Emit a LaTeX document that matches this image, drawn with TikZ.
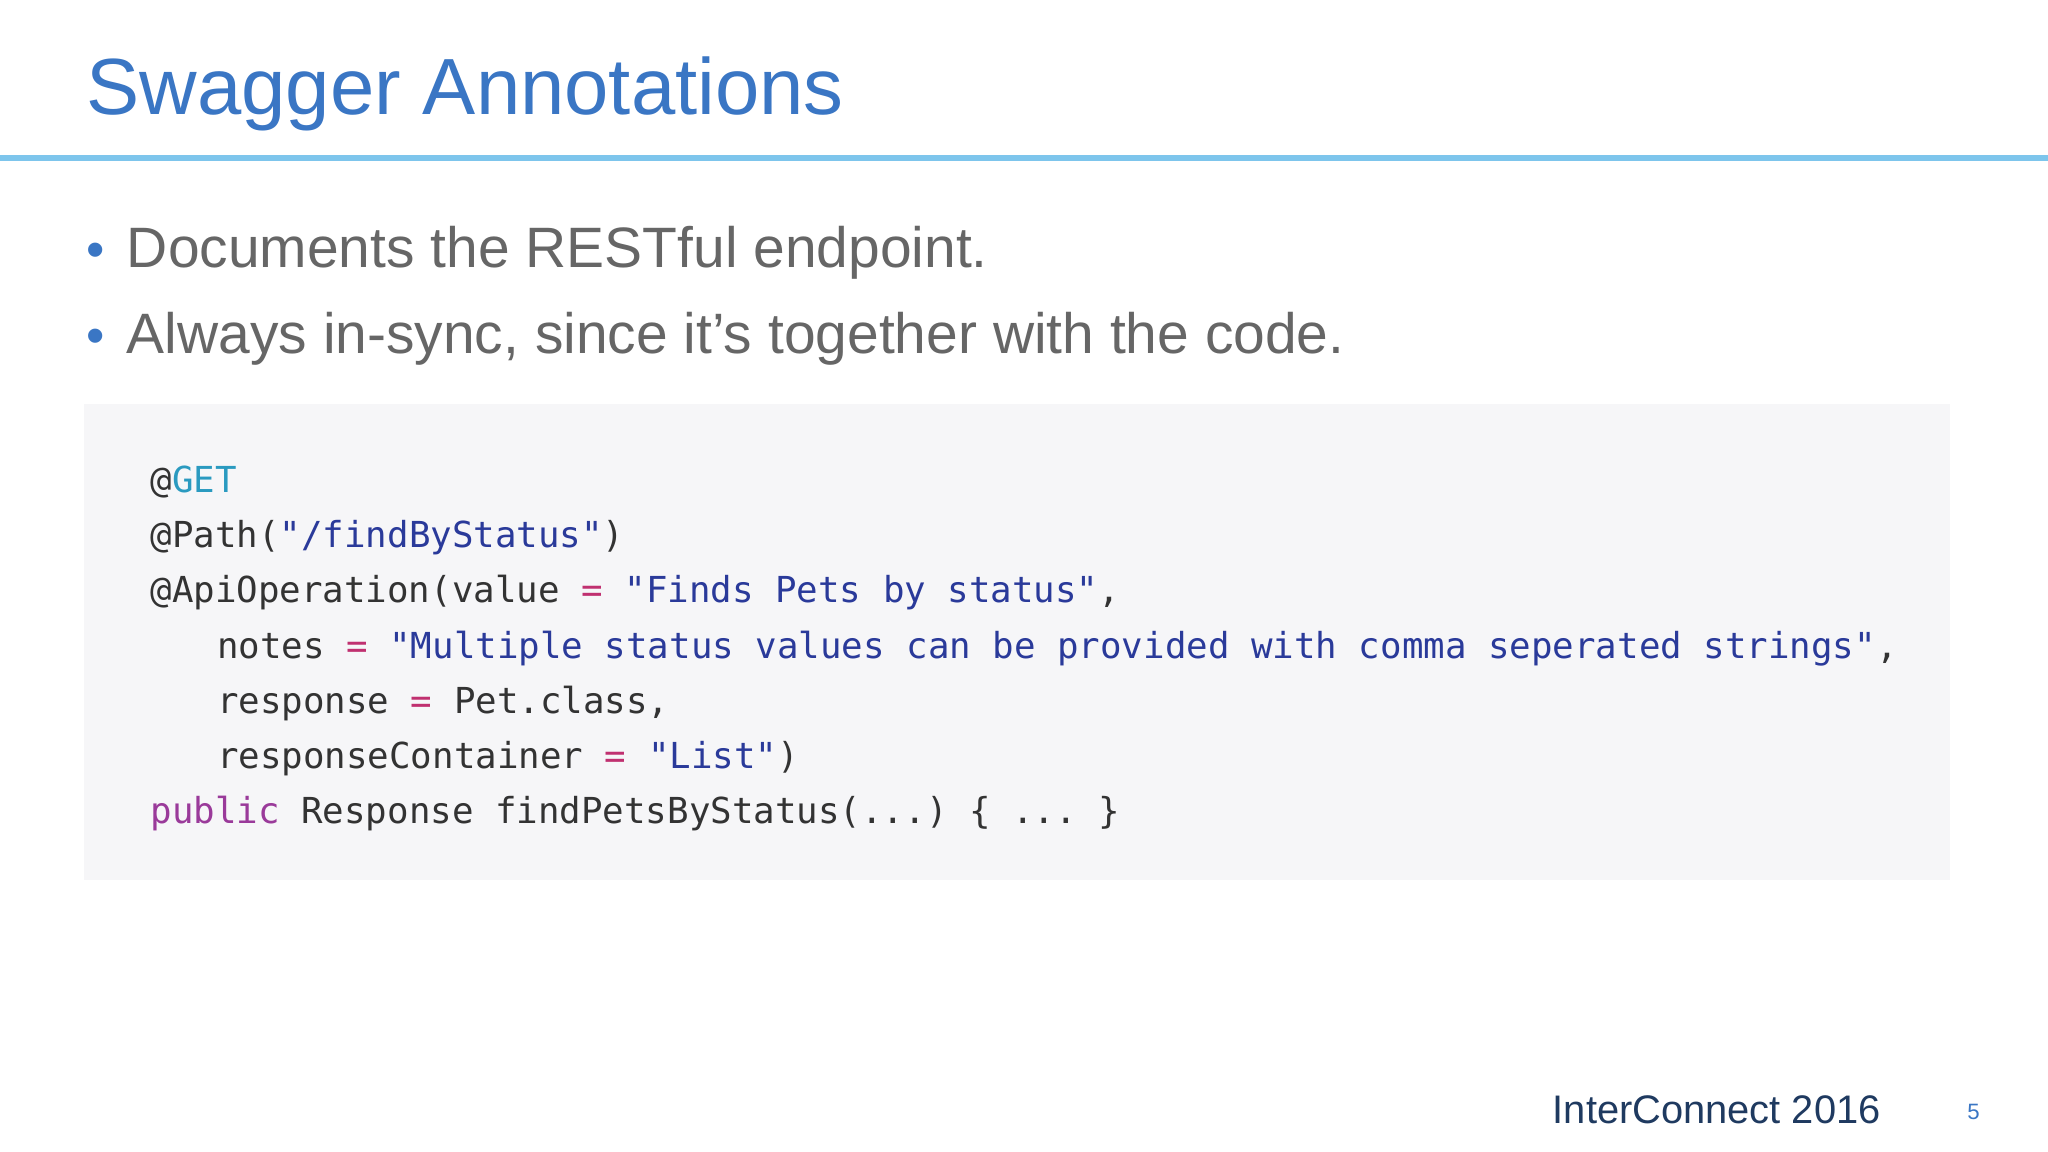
\documentclass[tikz,border=0pt]{standalone}
\usepackage{fontspec}
\setmainfont{Liberation Sans}
\setmonofont{DejaVu Sans Mono}
\definecolor{titleblue}{HTML}{3A76C4}
\definecolor{rulecol}{HTML}{7DC5EC}
\definecolor{txtgray}{HTML}{666666}
\definecolor{codebg}{HTML}{F6F6F8}
\definecolor{cdef}{HTML}{333333}
\definecolor{cstr}{HTML}{2A3A9A}
\definecolor{ceq}{HTML}{C03070}
\definecolor{cann}{HTML}{2A9AC0}
\definecolor{ckw}{HTML}{9A3A9A}
\definecolor{footcol}{HTML}{1F3A60}
\newcommand{\Cs}[1]{\textcolor{cstr}{#1}}
\newcommand{\Ce}{\textcolor{ceq}{=}}
\begin{document}
\begin{tikzpicture}[x=1pt,y=1pt,
  codeline/.style={anchor=base west,inner sep=0pt,font=\fontsize{27.4}{30}\selectfont\ttfamily,text=cdef},
  bullettext/.style={anchor=base west,inner sep=0pt,font=\fontsize{43.6}{50}\selectfont,text=txtgray}]
\useasboundingbox[fill=white] (0,0) rectangle (1568,-882);
\node[anchor=base west,inner sep=0pt,font=\fontsize{61}{70}\selectfont,text=titleblue] (title) at (66,-88) {Swagger Annotations};
\fill[rulecol] (0,-119) rectangle (1568,-123);
\node[anchor=base west,inner sep=0pt,font=\fontsize{40}{50}\selectfont,text=titleblue] (b1) at (66,-205) {•};
\node[bullettext] (t1) at (97,-205) {Documents the RESTful endpoint.};
\node[anchor=base west,inner sep=0pt,font=\fontsize{40}{50}\selectfont,text=titleblue] (b2) at (66,-271) {•};
\node[bullettext] (t2) at (97,-271) {Always in-sync, since it’s together with the code.};
\fill[codebg] (64,-309) rectangle (1493,-674);
\node[codeline] (c1) at (115,-377) {@\textcolor{cann}{GET}};
\node[codeline] (c2) at (115,-419.3) {@Path(\Cs{"/findByStatus"})};
\node[codeline] (c3) at (115,-461.6) {@ApiOperation(value \Ce{} \Cs{"Finds Pets by status"},};
\node[codeline] (c4) at (166,-503.9) {notes \Ce{} \Cs{"Multiple status values can be provided with comma seperated strings"},};
\node[codeline] (c5) at (166,-546.2) {response \Ce{} Pet.class,};
\node[codeline] (c6) at (166,-588.5) {responseContainer \Ce{} \Cs{"List"})};
\node[codeline] (c7) at (115,-630.8) {\textcolor{ckw}{public} Response findPetsByStatus(...) \{ ... \}};
\node[anchor=base east,inner sep=0pt,font=\fontsize{30.5}{36}\selectfont,text=footcol] (foot) at (1440,-860) {InterConnect 2016};
\node[anchor=base,inner sep=0pt,font=\fontsize{17}{20}\selectfont,text=titleblue] (pg) at (1511,-857) {5};
\end{tikzpicture}
\end{document}
